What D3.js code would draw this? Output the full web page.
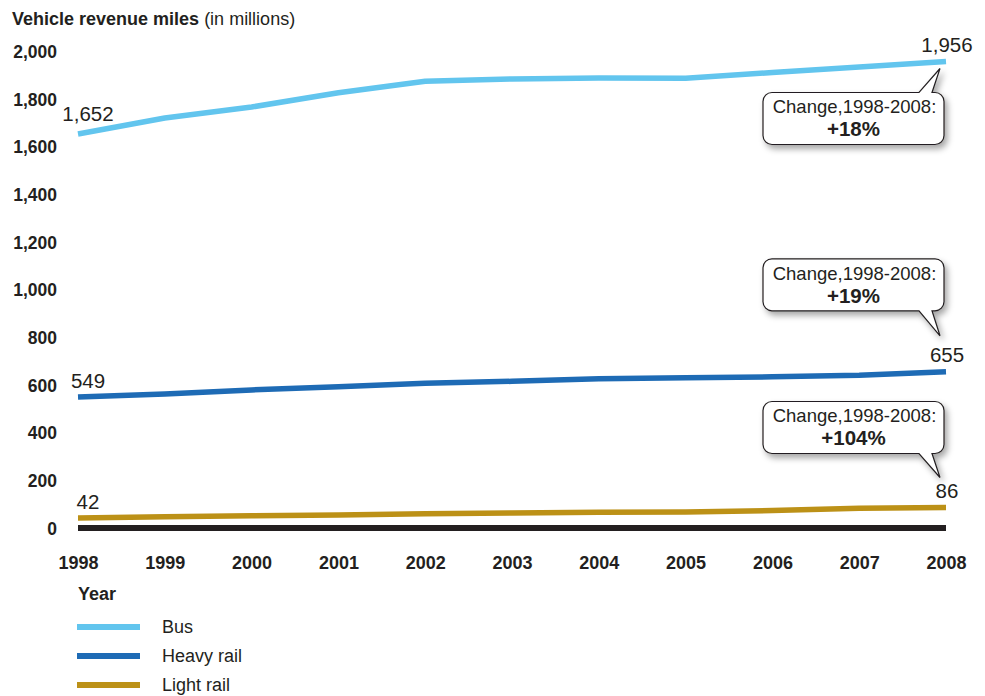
<!DOCTYPE html>
<html>
<head>
<meta charset="utf-8">
<script src="https://cdn.jsdelivr.net/npm/d3@7"></script>
<style>
  html, body { margin: 0; padding: 0; background: #fff; }
  svg { display: block; font-family: "Liberation Sans", Arial, Helvetica, sans-serif; }
</style>
</head>
<body>
<svg id="chart" width="985" height="696"></svg>
<script>
// ---- Data ----
const years = [1998, 1999, 2000, 2001, 2002, 2003, 2004, 2005, 2006, 2007, 2008];
const busValues = [1652, 1719, 1765, 1825, 1873, 1883, 1887, 1886, 1910, 1933, 1956];
const heavyRailValues = [549, 562, 579, 592, 607, 615, 626, 630, 634, 640, 655];
const lightRailValues = [42, 47, 51, 55, 60, 63, 66, 67, 73, 83, 86];
const yTicks = [0, 200, 400, 600, 800, 1000, 1200, 1400, 1600, 1800, 2000];
const seriesNames = ["Bus", "Heavy rail", "Light rail"];
const changeLabels = ["+18%", "+19%", "+104%"];
const changeTitle = "Change,1998-2008:";

// ---- Styles ----
const colors = { "Bus": "#62c5ee", "Heavy rail": "#1e6bb5", "Light rail": "#bc9117" };
const ink = "#231f20";

const svg = d3.select("#chart");
const x = d3.scaleLinear().domain([1998, 2008]).range([78, 946]);
const y = d3.scaleLinear().domain([0, 2000]).range([528, 51]);

const defs = svg.append("defs");
const f = defs.append("filter").attr("id", "shadow").attr("x", "-20%").attr("y", "-20%").attr("width", "150%").attr("height", "160%");
f.append("feDropShadow").attr("dx", 3).attr("dy", 4).attr("stdDeviation", 3)
  .attr("flood-color", "#000").attr("flood-opacity", 0.35);

// Title
const title = svg.append("text").attr("x", 12).attr("y", 25).attr("fill", ink).style("font-size", "18px");
title.append("tspan").attr("font-weight", "bold").text("Vehicle revenue miles");
title.append("tspan").text(" (in millions)");

// Y axis
const yAxis = d3.axisLeft(y).tickValues(yTicks).tickSize(0).tickPadding(0).tickFormat(d3.format(","));
const gy = svg.append("g").attr("transform", "translate(57,0)").call(yAxis);
gy.select(".domain").remove();
gy.selectAll("text").attr("fill", ink).attr("font-weight", "bold").style("font-size", "17.5px")
  .style("font-family", "'Liberation Sans', Arial, sans-serif").attr("dy", "0.36em");

// X axis
const xAxis = d3.axisBottom(x).tickValues(years).tickSize(0).tickPadding(0).tickFormat(d3.format("d"));
const gx = svg.append("g").attr("transform", "translate(0,556)").call(xAxis);
gx.select(".domain").remove();
gx.selectAll("text").attr("fill", ink).attr("font-weight", "bold").style("font-size", "18px")
  .style("font-family", "'Liberation Sans', Arial, sans-serif").attr("dy", "0.72em");

// Baseline
svg.append("line").attr("x1", x(1998)).attr("x2", x(2008)).attr("y1", y(0)).attr("y2", y(0))
  .attr("stroke", ink).attr("stroke-width", 6);

// Lines
const series = [
  { name: "Bus", values: busValues },
  { name: "Heavy rail", values: heavyRailValues },
  { name: "Light rail", values: lightRailValues }
];
const line = d3.line().x((d, i) => x(years[i])).y(d => y(d));
svg.selectAll(".series").data(series).join("path")
  .attr("class", "series")
  .attr("d", d => line(d.values))
  .attr("fill", "none").attr("stroke", d => colors[d.name])
  .attr("stroke-width", 5.5).attr("stroke-linejoin", "round");

// Start / end labels
const startDy = [-13, -9, -9];
const endDy = [-9, -10, -9];
series.forEach((s, i) => {
  const v0 = s.values[0], v1 = s.values[s.values.length - 1];
  svg.append("text").attr("x", x(1998) + 10).attr("y", y(v0) + startDy[i])
    .attr("text-anchor", "middle").attr("fill", ink).style("font-size", "20.5px")
    .text(d3.format(",")(v0));
  svg.append("text").attr("x", x(2008) + 1).attr("y", y(v1) + endDy[i])
    .attr("text-anchor", "middle").attr("fill", ink).style("font-size", "20.5px")
    .text(d3.format(",")(v1));
});

// Callouts
function calloutPath(x0, y0, x1, y1, r, bx1, bx2, tx, ty, side) {
  let p = `M${x0 + r},${y0}`;
  if (side === "top") p += ` L${bx1},${y0} L${tx},${ty} L${bx2},${y0}`;
  p += ` L${x1 - r},${y0} A${r},${r} 0 0 1 ${x1},${y0 + r}`;
  p += ` L${x1},${y1 - r} A${r},${r} 0 0 1 ${x1 - r},${y1}`;
  if (side === "bottom") p += ` L${bx2},${y1} L${tx},${ty} L${bx1},${y1}`;
  p += ` L${x0 + r},${y1} A${r},${r} 0 0 1 ${x0},${y1 - r}`;
  p += ` L${x0},${y0 + r} A${r},${r} 0 0 1 ${x0 + r},${y0} Z`;
  return p;
}
const boxW = 181, boxH = 52;
const callouts = [
  { side: "top", v: busValues[10], boxTopOff: 31, tipOff: 7 },
  { side: "bottom", v: heavyRailValues[10], boxTopOff: -113, tipOff: -36 },
  { side: "bottom", v: lightRailValues[10], boxTopOff: -106, tipOff: -30 }
];
callouts.forEach((c, i) => {
  const py = y(c.v);
  const x1 = x(2008) - 2, x0 = x1 - boxW;
  const y0 = py + c.boxTopOff, y1 = y0 + boxH;
  const tx = x(2008) - 6, ty = py + c.tipOff;
  const g = svg.append("g");
  g.append("path")
    .attr("d", calloutPath(x0, y0, x1, y1, 9, x1 - 25, x1 - 12, tx, ty, c.side))
    .attr("fill", "#fff").attr("stroke", ink).attr("stroke-width", 1.2)
    .attr("filter", "url(#shadow)");
  const cx = (x0 + x1) / 2 + 1;
  g.append("text").attr("x", cx).attr("y", y0 + 21).attr("text-anchor", "middle")
    .attr("fill", ink).style("font-size", "18.5px").text(changeTitle);
  g.append("text").attr("x", cx - 1).attr("y", y0 + 44).attr("text-anchor", "middle")
    .attr("fill", ink).attr("font-weight", "bold").style("font-size", "20.5px").text(changeLabels[i]);
});

// Legend
svg.append("text").attr("x", 78).attr("y", 600).attr("fill", ink).attr("font-weight", "bold")
  .style("font-size", "18px").text("Year");
const legendY = [627, 656, 685];
seriesNames.forEach((n, i) => {
  svg.append("line").attr("x1", 77).attr("x2", 140).attr("y1", legendY[i]).attr("y2", legendY[i])
    .attr("stroke", colors[n]).attr("stroke-width", 6);
  svg.append("text").attr("x", 162).attr("y", legendY[i] + 6).attr("fill", ink)
    .style("font-size", "18px").text(n);
});
</script>
</body>
</html>
